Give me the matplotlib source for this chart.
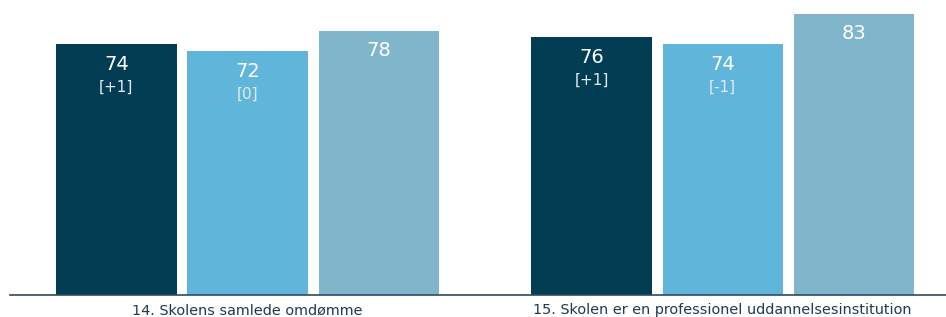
import matplotlib
matplotlib.use("Agg")
import matplotlib.pyplot as plt
import numpy as np

categories = ["14. Skolens samlede omdømme",
              "15. Skolen er en professionel uddannelsesinstitution"]
series1 = [74, 76]
series2 = [72, 74]
series3 = [78, 83]
changes1 = ["[+1]", "[+1]"]
changes2 = ["[0]", "[-1]"]

colors = ["#023d54", "#5fb5da", "#7fb6cb"]

fig = plt.figure(figsize=(9.46, 3.17), dpi=100)
ax = fig.add_axes([10 / 946, 22 / 317, 936 / 946, 295 / 317])

x = np.arange(len(categories))
w = 0.253
step = 0.276
all_series = [series1, series2, series3]
all_changes = [changes1, changes2, None]

for i, (vals, col) in enumerate(zip(all_series, colors)):
    pos = x + (i - 1) * step
    ax.bar(pos, vals, width=w, color=col)
    for j, v in enumerate(vals):
        ax.text(pos[j], v - 6, str(v), ha="center", va="center",
                color="white", fontsize=14)
        if all_changes[i] is not None:
            ax.text(pos[j], v - 12.8, all_changes[i][j], ha="center",
                    va="center", color="#e3eaee", fontsize=11)

ax.set_xlim(-0.5, 1.47)
ax.set_ylim(0, 87)
ax.set_yticks([])
ax.set_xticks(x)
ax.set_xticklabels(categories, fontsize=10.4, color="#1f3a4d")
ax.tick_params(axis="x", length=0, pad=6)
for s in ["top", "left", "right"]:
    ax.spines[s].set_visible(False)
ax.spines["bottom"].set_color("#2f4a5f")
ax.spines["bottom"].set_linewidth(1.2)

fig.savefig("out.png", dpi=100)
